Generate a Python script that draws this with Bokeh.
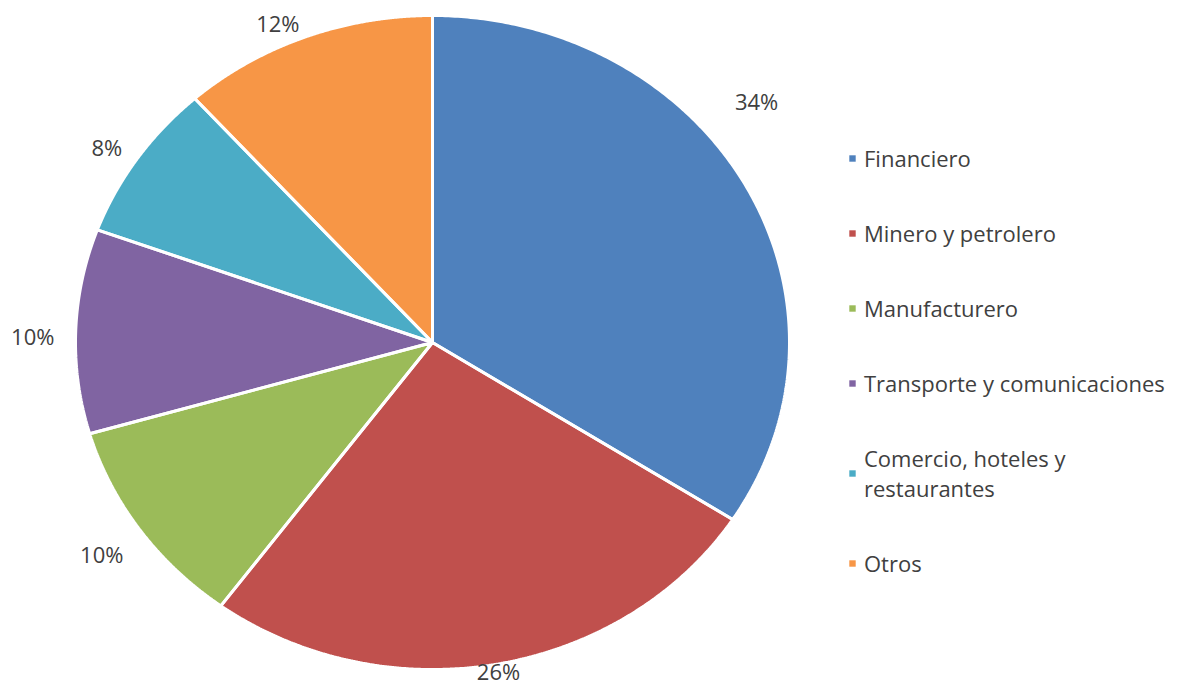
import numpy as np
from bokeh.plotting import figure
from bokeh.models import Legend, LegendItem, ColumnDataSource
from bokeh.core.properties import value
from bokeh.embed import file_html
from bokeh.resources import INLINE

categories = ["Financiero", "Minero y petrolero", "Manufacturero",
              "Transporte y comunicaciones", "Comercio, hoteles y\nrestaurantes", "Otros"]
shares = [34.1, 26.0, 10.4, 10.1, 7.8, 11.6]
colors = ["#4F81BD", "#C0504D", "#9BBB59", "#8064A2", "#4BACC6", "#F79646"]

W, H = 1190, 688
cx_px, cy_px = 432, 342      # pie centre in the frame (px from top-left)
rx_px, ry_px = 357, 327      # pie radii in px

p = figure(width=W, height=H, output_backend="svg", toolbar_location=None,
           x_range=(-cx_px / rx_px, (W - cx_px) / rx_px),
           y_range=(-(H - cy_px) / ry_px, cy_px / ry_px),
           min_border=0)
p.axis.visible = False
p.grid.visible = False
p.outline_line_color = None
p.background_fill_color = "white"

total = sum(shares)
fr = np.array(shares) / total
ends = np.cumsum(fr)
starts = ends - fr

xs, ys = [], []
for s, e in zip(starts, ends):
    t = np.linspace(s, e, 240) * 2 * np.pi
    xs.append(np.concatenate([[0], np.sin(t), [0]]).tolist())
    ys.append(np.concatenate([[0], np.cos(t), [0]]).tolist())

src = ColumnDataSource(dict(xs=xs, ys=ys, color=colors, cat=categories))
pr = p.patches("xs", "ys", source=src, fill_color="color", line_color=None)
p.multi_line("xs", "ys", source=src, line_color="white", line_width=3)

# label placement style (best-fit-like): radial factor and angular nudge in degrees
rad = [1.17, 1.02, 1.13, 1.12, 1.09, 1.07]
nudge = [-10.5, 0.0, 0.0, -1.0, -1.0, -3.0]
mids = (starts + ends) / 2 * 2 * np.pi + np.radians(nudge)
lx = [np.sin(m) * k for m, k in zip(mids, rad)]
ly = [np.cos(m) * k for m, k in zip(mids, rad)]
labels = [f"{round(v)}%" for v in shares]
p.text(x=lx, y=ly, text=labels, text_align="center", text_baseline="middle",
       text_font=value("Open Sans"), text_font_size="22px", text_color="#404040")

items = [LegendItem(label=c, renderers=[pr], index=i) for i, c in enumerate(categories)]

legend = Legend(items=items, location=(848, 688 - 578), glyph_width=8, glyph_height=8,
                label_text_font="Open Sans", label_text_font_size="22px",
                label_text_color="#404040", spacing=45, label_height=30,
                label_text_line_height=1.4,
                border_line_color=None, background_fill_alpha=0,
                label_standoff=8, padding=0, margin=0)
p.add_layout(legend, "center")

open("out.html", "w").write(file_html(p, INLINE))
